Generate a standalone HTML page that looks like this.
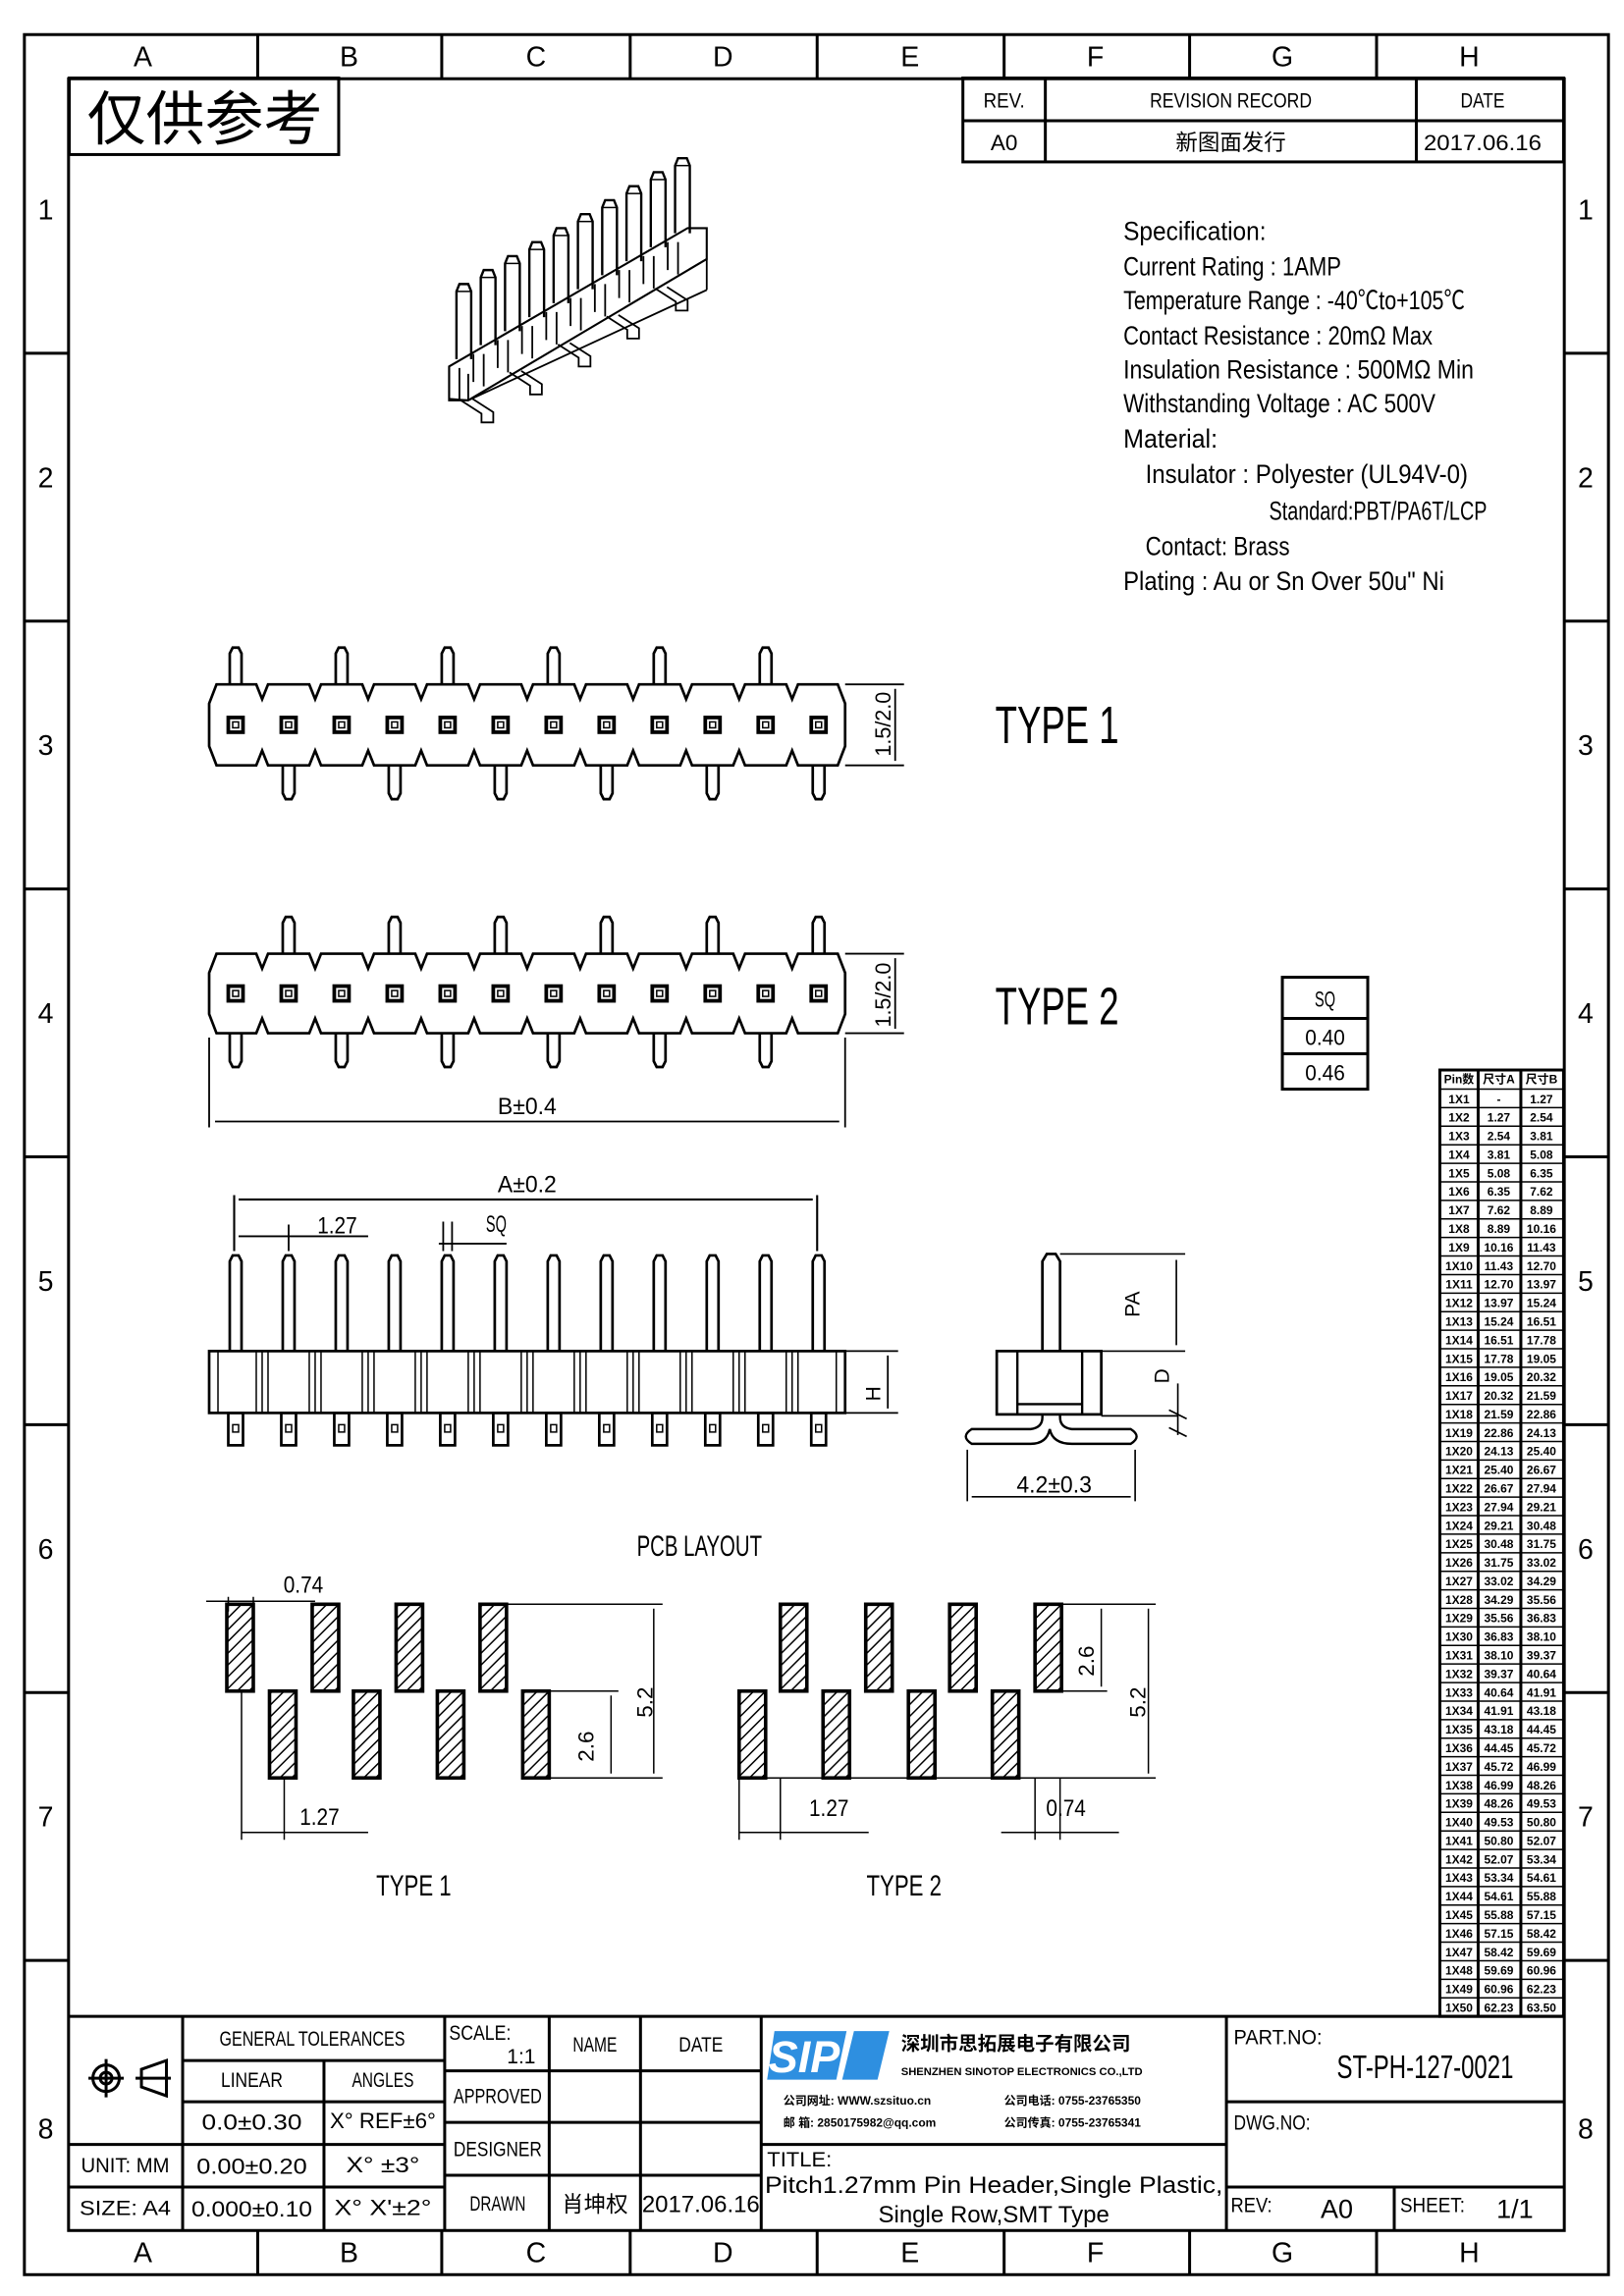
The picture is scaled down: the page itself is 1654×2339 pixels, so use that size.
<!DOCTYPE html>
<html><head><meta charset="utf-8">
<style>
html,body{margin:0;padding:0;background:#fff;}
svg{display:block;}
text{font-family:"Liberation Sans Narrow","Liberation Sans","Noto Sans CJK SC",sans-serif;fill:#000;}
.c{text-anchor:middle;}
.cn{font-family:"Liberation Sans","Noto Sans CJK SC",sans-serif;}
</style></head><body>
<svg id="s" width="1654" height="2339" viewBox="0 0 1103 1560" xmlns="http://www.w3.org/2000/svg">
<g fill="none" stroke="#000" stroke-width="2">
<rect x="16.5" y="23.5" width="1076" height="1522"/>
<rect x="46.5" y="53.5" width="1016" height="1462"/>
<path d="M175 23V53M300 23V53M428 23V53M555 23V53M682 23V53M808 23V53M935 23V53"/>
<path d="M175 1515V1545M300 1515V1545M428 1515V1545M555 1515V1545M682 1515V1545M808 1515V1545M935 1515V1545"/>
<path d="M16 240H46M16 422H46M16 604H46M16 786H46M16 968H46M16 1150H46M16 1332H46"/>
<path d="M1062 240H1092M1062 422H1092M1062 604H1092M1062 786H1092M1062 968H1092M1062 1150H1092M1062 1332H1092"/>
<rect x="47" y="53" width="183" height="52"/>
<rect x="654" y="53" width="408" height="57"/>
<path d="M654 82H1062M710 53V110M962 53V110"/>
<rect x="871" y="664" width="58" height="76"/>
<path d="M871 692H929M871 716H929"/>
<rect x="978" y="727" width="84" height="643"/>
<path d="M1004 727V1370M1033 727V1370"/>
</g>
<g id="dyn" fill="none" stroke="#000" stroke-width="1.6"></g>
<g font-size="19" class="c">
<text x="97" y="45" class="c">A</text><text x="237" y="45" class="c">B</text><text x="364" y="45" class="c">C</text><text x="491" y="45" class="c">D</text><text x="618" y="45" class="c">E</text><text x="744" y="45" class="c">F</text><text x="871" y="45" class="c">G</text><text x="998" y="45" class="c">H</text>
<text x="97" y="1537" class="c">A</text><text x="237" y="1537" class="c">B</text><text x="364" y="1537" class="c">C</text><text x="491" y="1537" class="c">D</text><text x="618" y="1537" class="c">E</text><text x="744" y="1537" class="c">F</text><text x="871" y="1537" class="c">G</text><text x="998" y="1537" class="c">H</text>
<text x="31" y="149" class="c">1</text><text x="31" y="331" class="c">2</text><text x="31" y="513" class="c">3</text><text x="31" y="695" class="c">4</text><text x="31" y="877" class="c">5</text><text x="31" y="1059" class="c">6</text><text x="31" y="1241" class="c">7</text><text x="31" y="1453" class="c">8</text>
<text x="1077" y="149" class="c">1</text><text x="1077" y="331" class="c">2</text><text x="1077" y="513" class="c">3</text><text x="1077" y="695" class="c">4</text><text x="1077" y="877" class="c">5</text><text x="1077" y="1059" class="c">6</text><text x="1077" y="1241" class="c">7</text><text x="1077" y="1453" class="c">8</text>
</g>
<text x="139" y="95" class="c cn" font-size="40">仅供参考</text>
<g font-size="14">
<text x="682" y="73" class="c" textLength="28" lengthAdjust="spacingAndGlyphs">REV.</text><text x="836" y="73" class="c" textLength="110" lengthAdjust="spacingAndGlyphs">REVISION RECORD</text><text x="1007" y="73" class="c" textLength="30" lengthAdjust="spacingAndGlyphs">DATE</text>
<text x="682" y="102" class="c" font-size="15">A0</text><text x="836" y="102" class="c cn" font-size="15">新图面发行</text><text x="1007" y="102" class="c" font-size="15" textLength="80" lengthAdjust="spacingAndGlyphs">2017.06.16</text>
</g>
<g font-size="18">
<text x="763" y="163" textLength="97" lengthAdjust="spacingAndGlyphs">Specification:</text>
<text x="763" y="187" textLength="148" lengthAdjust="spacingAndGlyphs">Current Rating : 1AMP</text>
<text x="763" y="210" textLength="232" lengthAdjust="spacingAndGlyphs">Temperature Range : -40℃to+105℃</text>
<text x="763" y="234" textLength="210" lengthAdjust="spacingAndGlyphs">Contact Resistance : 20mΩ Max</text>
<text x="763" y="257" textLength="238" lengthAdjust="spacingAndGlyphs">Insulation Resistance : 500MΩ Min</text>
<text x="763" y="280" textLength="212" lengthAdjust="spacingAndGlyphs">Withstanding Voltage : AC 500V</text>
<text x="763" y="304" textLength="64" lengthAdjust="spacingAndGlyphs">Material:</text>
<text x="778" y="328" textLength="219" lengthAdjust="spacingAndGlyphs">Insulator : Polyester (UL94V-0)</text>
<text x="862" y="353" textLength="148" lengthAdjust="spacingAndGlyphs">Standard:PBT/PA6T/LCP</text>
<text x="778" y="377" textLength="98" lengthAdjust="spacingAndGlyphs">Contact: Brass</text>
<text x="763" y="401" textLength="218" lengthAdjust="spacingAndGlyphs">Plating : Au or Sn Over 50u" Ni</text>
</g>
<text x="676" y="505" font-size="36" textLength="84" lengthAdjust="spacingAndGlyphs">TYPE 1</text>
<text x="676" y="696" font-size="36" textLength="84" lengthAdjust="spacingAndGlyphs">TYPE 2</text>
<text x="605" y="514" font-size="15" transform="rotate(-90 605 514)" textLength="44" lengthAdjust="spacingAndGlyphs">1.5/2.0</text>
<text x="605" y="698" font-size="15" transform="rotate(-90 605 698)" textLength="44" lengthAdjust="spacingAndGlyphs">1.5/2.0</text>
<text x="358" y="757" class="c" font-size="16" textLength="40" lengthAdjust="spacingAndGlyphs">B±0.4</text>
<text x="358" y="810" class="c" font-size="16" textLength="40" lengthAdjust="spacingAndGlyphs">A±0.2</text>
<text x="229" y="838" class="c" font-size="16" textLength="27" lengthAdjust="spacingAndGlyphs">1.27</text>
<text x="337" y="837" class="c" font-size="16" textLength="14" lengthAdjust="spacingAndGlyphs">SQ</text>
<text x="598" y="952" font-size="14" transform="rotate(-90 598 952)">H</text>
<text x="774" y="895" font-size="14" transform="rotate(-90 774 895)">PA</text>
<text x="794" y="940" font-size="14" transform="rotate(-90 794 940)">D</text>
<text x="716" y="1014" class="c" font-size="16" textLength="51" lengthAdjust="spacingAndGlyphs">4.2±0.3</text>
<text x="900" y="684" class="c" font-size="15" textLength="14" lengthAdjust="spacingAndGlyphs">SQ</text>
<text x="900" y="710" class="c" font-size="15" textLength="27" lengthAdjust="spacingAndGlyphs">0.40</text>
<text x="900" y="734" class="c" font-size="15" textLength="27" lengthAdjust="spacingAndGlyphs">0.46</text>
<text x="475" y="1057" class="c" font-size="20" textLength="85" lengthAdjust="spacingAndGlyphs">PCB LAYOUT</text>
<text x="206" y="1082" class="c" font-size="16" textLength="27" lengthAdjust="spacingAndGlyphs">0.74</text>
<text x="217" y="1240" class="c" font-size="16" textLength="27" lengthAdjust="spacingAndGlyphs">1.27</text>
<text x="403" y="1197" font-size="15" transform="rotate(-90 403 1197)">2.6</text>
<text x="443" y="1167" font-size="15" transform="rotate(-90 443 1167)">5.2</text>
<text x="281" y="1288" class="c" font-size="20" textLength="51" lengthAdjust="spacingAndGlyphs">TYPE 1</text>
<text x="563" y="1234" class="c" font-size="16" textLength="27" lengthAdjust="spacingAndGlyphs">1.27</text>
<text x="724" y="1234" class="c" font-size="16" textLength="27" lengthAdjust="spacingAndGlyphs">0.74</text>
<text x="743" y="1139" font-size="15" transform="rotate(-90 743 1139)">2.6</text>
<text x="778" y="1167" font-size="15" transform="rotate(-90 778 1167)">5.2</text>
<text x="614" y="1288" class="c" font-size="20" textLength="51" lengthAdjust="spacingAndGlyphs">TYPE 2</text>
<g id="tbl" font-size="8" font-weight="bold" class="c">
<text x="991" y="736" class="c cn">Pin数</text><text x="1018" y="736" class="c cn">尺寸A</text><text x="1047" y="736" class="c cn">尺寸B</text>
</g>
<g fill="none" stroke="#000" stroke-width="2">
<path d="M47 1370H1062"/>
<path d="M124 1370V1515M220 1400V1515M302 1370V1515M373 1370V1515M435 1370V1515M517 1370V1515M833 1370V1515"/>
<path d="M124 1400H302M124 1428H302M47 1457H302M47 1486H302"/>
<path d="M302 1407H517M302 1442H517M302 1478H517"/>
<path d="M517 1457H833M833 1428H1062M833 1486H1062M947 1486V1515"/>
<circle cx="72" cy="1412" r="9"/><circle cx="72" cy="1412" r="4"/><path d="M60 1412H84M72 1399V1425M92 1412H116M96 1406L113 1400V1424L96 1418Z"/>
</g>
<g font-size="14">
<text x="212" y="1390" class="c" textLength="126" lengthAdjust="spacingAndGlyphs">GENERAL TOLERANCES</text>
<text x="171" y="1418" class="c" textLength="42" lengthAdjust="spacingAndGlyphs">LINEAR</text><text x="260" y="1418" class="c" textLength="42" lengthAdjust="spacingAndGlyphs">ANGLES</text>
<text x="171" y="1447" class="c" font-size="15" textLength="68" lengthAdjust="spacingAndGlyphs">0.0±0.30</text><text x="260" y="1446" class="c" font-size="15" textLength="72" lengthAdjust="spacingAndGlyphs">X° REF±6°</text>
<text x="85" y="1476" class="c" textLength="60" lengthAdjust="spacingAndGlyphs">UNIT: MM</text><text x="171" y="1477" class="c" font-size="15" textLength="75" lengthAdjust="spacingAndGlyphs">0.00±0.20</text><text x="260" y="1476" class="c" font-size="15" textLength="50" lengthAdjust="spacingAndGlyphs">X° ±3°</text>
<text x="85" y="1505" class="c" textLength="62" lengthAdjust="spacingAndGlyphs">SIZE: A4</text><text x="171" y="1506" class="c" font-size="15" textLength="82" lengthAdjust="spacingAndGlyphs">0.000±0.10</text><text x="260" y="1505" class="c" font-size="15" textLength="66" lengthAdjust="spacingAndGlyphs">X° X'±2°</text>
<text x="305" y="1386" textLength="42" lengthAdjust="spacingAndGlyphs">SCALE:</text><text x="354" y="1402" class="c">1:1</text>
<text x="404" y="1394" class="c" textLength="30" lengthAdjust="spacingAndGlyphs">NAME</text><text x="476" y="1394" class="c" textLength="30" lengthAdjust="spacingAndGlyphs">DATE</text>
<text x="338" y="1429" class="c" textLength="60" lengthAdjust="spacingAndGlyphs">APPROVED</text><text x="338" y="1465" class="c" textLength="60" lengthAdjust="spacingAndGlyphs">DESIGNER</text><text x="338" y="1502" class="c" textLength="38" lengthAdjust="spacingAndGlyphs">DRAWN</text>
<text x="404" y="1503" class="c cn" font-size="15">肖坤权</text><text x="476" y="1503" class="c" font-size="16" textLength="80" lengthAdjust="spacingAndGlyphs">2017.06.16</text>
<text x="521" y="1472" textLength="44" lengthAdjust="spacingAndGlyphs">TITLE:</text>
<text x="675" y="1490" class="c" font-size="16" textLength="311" lengthAdjust="spacingAndGlyphs">Pitch1.27mm Pin Header,Single Plastic,</text>
<text x="675" y="1510" class="c" font-size="16" textLength="157" lengthAdjust="spacingAndGlyphs">Single Row,SMT Type</text>
<text x="838" y="1389" textLength="60" lengthAdjust="spacingAndGlyphs">PART.NO:</text><text x="968" y="1412" class="c" font-size="22" textLength="120" lengthAdjust="spacingAndGlyphs">ST-PH-127-0021</text>
<text x="838" y="1447" textLength="52" lengthAdjust="spacingAndGlyphs">DWG.NO:</text>
<text x="836" y="1503" textLength="28" lengthAdjust="spacingAndGlyphs">REV:</text><text x="908" y="1507" class="c" font-size="18">A0</text>
<text x="951" y="1503" textLength="44" lengthAdjust="spacingAndGlyphs">SHEET:</text><text x="1029" y="1507" class="c" font-size="18">1/1</text>
</g>
<path d="M526 1380H575L568 1413H521Z M580 1380H604L596 1413H572Z" fill="#2e8fe0"/>
<text x="522" y="1408" font-size="30" font-weight="bold" font-style="italic" style="fill:#fff">SIP</text>
<text x="612" y="1393" class="cn" font-size="13" font-weight="bold">深圳市思拓展电子有限公司</text>
<text x="612" y="1410" font-size="7.5" font-weight="bold">SHENZHEN SINOTOP ELECTRONICS CO.,LTD</text>
<text x="532" y="1430" class="cn" font-size="8" font-weight="bold">公司网址: WWW.szsituo.cn</text>
<text x="532" y="1445" class="cn" font-size="8" font-weight="bold">邮    箱: 2850175982@qq.com</text>
<text x="682" y="1430" class="cn" font-size="8" font-weight="bold">公司电话: 0755-23765350</text>
<text x="682" y="1445" class="cn" font-size="8" font-weight="bold">公司传真: 0755-23765341</text>
</svg>
<script>
(function(){
var NS="http://www.w3.org/2000/svg",g=document.getElementById('dyn');
function el(t,a,p){var e=document.createElementNS(NS,t);for(var k in a)e.setAttribute(k,a[k]);(p||g).appendChild(e);return e;}
function P(d,w,f){el('path',{d:d,'stroke-width':w||1.6,fill:f||'none'});}
function R(x,y,w,h,sw,f){el('rect',{x:x,y:y,width:w,height:h,'stroke-width':sw||1.6,fill:f||'none'});}
for(var i=0;i<10;i++){var x=315+i*16.5,t=193-i*9.5,b=t+51;
 P('M'+(x-5)+' '+b+'V'+(t+5)+'L'+(x-3)+' '+t+'H'+(x+3)+'L'+(x+5)+' '+(t+5)+'V'+b);
 P('M'+(x-5)+' '+(t+5)+'H'+(x+5),1);
 P('M'+(x-10)+' '+(b+6)+'V'+(b+25)+'M'+(x-3)+' '+(b+6)+'V'+(b+28),1.2);
 if(i%2==0)P('M'+(x-2)+' '+(b+28)+'L'+(x+12)+' '+(b+37)+'V'+(b+43)+'H'+(x+20)+'V'+(b+36)+'L'+(x+6)+' '+(b+27),1.2);
}
P('M305 249L467 155H480V176L318 272H305Z',1.4);
P('M305 252V265M318 254V272M480 176V197M468 183L480 176',1.2);
P('M305 271L318 272L480 197',1.2);
function body(y1,y2){var d='M147 '+y1;for(var k=0;k<11;k++){var xb=178+36*k;d+='H'+(xb-4)+'L'+xb+' '+(y1+10)+'L'+(xb+4)+' '+y1;}
 d+='H569L574 '+(y1+13)+'V'+(y2-13)+'L569 '+y2;for(var k=10;k>=0;k--){var xb=178+36*k;d+='H'+(xb+4)+'L'+xb+' '+(y2-10)+'L'+(xb-4)+' '+y2;}
 d+='H147L142 '+(y2-13)+'V'+(y1+13)+'Z';P(d,1.8);}
function pinU(x,yb,yt){P('M'+(x-4)+' '+yb+'V'+(yt+4)+'L'+(x-2)+' '+yt+'H'+(x+2)+'L'+(x+4)+' '+(yt+4)+'V'+yb,1.8);}
function pinD(x,yt,yb){P('M'+(x-4)+' '+yt+'V'+(yb-4)+'L'+(x-2)+' '+yb+'H'+(x+2)+'L'+(x+4)+' '+(yb-4)+'V'+yt,1.8);}
function rows(y1,y2,top){body(y1,y2);var ym=(y1+y2)/2;
 for(var k=0;k<12;k++){var x=160+36*k;R(x-5,ym-5,10,10,2.5);R(x-2,ym-2,4,4,1);
  if((k%2==0)==top)pinU(x,y1,y1-25);else pinD(x,y2,y2+23);}
 P('M574 '+y1+'H614M574 '+y2+'H614M608 '+(y1+3)+'V'+(y2-3),1.2);}
rows(465,520,true);rows(648,702,false);
P('M142 705V766M574 705V766M146 762H570',1.2);
R(142,918,432,42,1.8);
for(var k=0;k<12;k++){var x=160+36*k;pinU(x,918,853);R(x-5,960,10,22,1.8);R(x-2,968,4,5,1);
 if(k<11){P('M'+(x+14)+' 918V960M'+(x+18)+' 918V960M'+(x+22)+' 918V960',1);} }
P('M148 918V960M568 918V960',1);
P('M159 850V812M555 850V812M162 815H552',1.4);
P('M196 850V832M162 840H250M298 845H344M301 830V850M307 830V850',1.2);
P('M574 918H610M574 960H610M603 921V957',1.2);
P('M708 918V857L711 852H717L720 857V918',1.8);R(677,918,71,43,1.8);
P('M691 918V961M735 918V961M691 961V954H735V961',1.6);
P('M708 961V963Q708 970 700 971H660Q652 976 660 981H700Q711 981 713 971Q715 981 728 981H768Q776 976 768 971H728Q720 970 720 963V961',1.6);
P('M720 852H805M748 918H805M799 856V914M748 962H800M800 940V975M794 958L806 964M794 970L806 976',1.1);
P('M657 985V1020M771 985V1020M660 1017H768',1.1);
function pad(x,y){R(x,y,18,59,2.4);var d='';for(var j=-8;j<8;j++){var y0=y+j*8;d+='M'+x+' '+(y0+18)+'L'+(x+18)+' '+y0;}
 var cp=el('clipPath',{id:'c'+x+'_'+y},g);el('rect',{x:x,y:y,width:18,height:59},cp);
 el('path',{d:d,'stroke-width':1,'clip-path':'url(#c'+x+'_'+y+')'});}
[154,212,269,326].forEach(function(x){pad(x,1090);});[183,240,297,355].forEach(function(x){pad(x,1149);});
[530,588,645,703].forEach(function(x){pad(x,1090);});[502,559,617,674].forEach(function(x){pad(x,1149);});
P('M155 1085V1095M172 1085V1095M140 1088H214M164 1149V1250M193 1208V1250M164 1245H250',1);
P('M373 1149H420M373 1208H450M415 1152V1205M444 1093V1205M344 1090H450',1);
P('M502 1208V1250M530 1208V1250M502 1245H590M703 1208V1250M720 1208V1250M680 1245H760',1);
P('M721 1090H785M721 1149H752M748 1093V1146M520 1208H785M780 1093V1205',1);
for(var r=0;r<=50;r++){var y=740+r*12.6;P('M978 '+y+'H1062',1);}
})();
</script>
<script>
(function(){var s=document.getElementById('tbl');var NS="http://www.w3.org/2000/svg";
for(var n=1;n<=50;n++){var a=n==1?'-':((n-1)*1.27).toFixed(2),b=(n*1.27).toFixed(2);var y=740+(n-1)*12.6+9.5;
[[991,'1X'+n],[1018,a],[1047,b]].forEach(function(c){var t=document.createElementNS(NS,'text');t.setAttribute('x',c[0]);t.setAttribute('y',y);t.setAttribute('class','c');t.textContent=c[1];s.appendChild(t);});}})();
</script>
</body></html>
